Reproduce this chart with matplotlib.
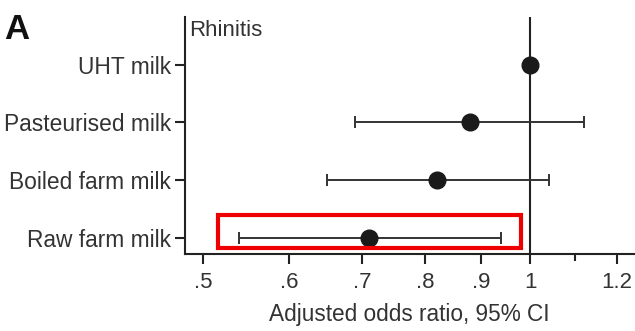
#!/usr/bin/env python3
import matplotlib
matplotlib.use('Agg')
import matplotlib.pyplot as plt
from matplotlib.patches import Rectangle
from matplotlib.ticker import FixedLocator, NullFormatter

# odds ratios with 95% CI, top row first
exposures = ['UHT milk', 'Pasteurised milk', 'Boiled farm milk', 'Raw farm milk']
odds_ratio = [1.00, 0.88, 0.82, 0.71]
ci_low = [1.00, 0.69, 0.65, 0.54]
ci_high = [1.00, 1.12, 1.04, 0.94]

xticks = [0.5, 0.6, 0.7, 0.8, 0.9, 1.0, 1.2]
xtick_labels = ['.5', '.6', '.7', '.8', '.9', '1', '1.2']
minor_ticks = [1.1]


def main():
    plt.rcParams['font.family'] = ['Liberation Sans', 'DejaVu Sans']
    fig = plt.figure(figsize=(6.35, 3.31), dpi=100)
    ax = fig.add_axes([0.291, 0.233, 0.708, 0.716])

    ypos = list(range(len(exposures)))[::-1]
    err_lo = [o - l for o, l in zip(odds_ratio, ci_low)]
    err_hi = [h - o for o, h in zip(odds_ratio, ci_high)]

    ax.axvline(1.0, color='#222222', lw=1.5, zorder=1)
    ax.errorbar(odds_ratio, ypos, xerr=[err_lo, err_hi], fmt='o',
                color='#1a1a1a', ecolor='#333333', elinewidth=1.4,
                capsize=4.5, capthick=1.4, markersize=12, zorder=3)

    ax.set_xscale('log')
    ax.set_xlim(0.481, 1.246)
    ax.set_ylim(-0.28, 3.83)

    ax.xaxis.set_major_locator(FixedLocator(xticks))
    ax.set_xticklabels(xtick_labels)
    ax.xaxis.set_minor_locator(FixedLocator(minor_ticks))
    ax.xaxis.set_minor_formatter(NullFormatter())
    ax.set_yticks(ypos)
    ax.set_yticklabels(exposures)

    for s in ['top', 'right']:
        ax.spines[s].set_visible(False)
    for s in ['left', 'bottom']:
        ax.spines[s].set_linewidth(1.5)
        ax.spines[s].set_color('#222222')
    ax.tick_params(axis='both', which='major', length=7, width=1.5,
                   color='#222222', labelcolor='#333333')
    ax.tick_params(axis='y', labelsize=16.4, pad=3)
    ax.tick_params(axis='x', labelsize=16, pad=6)
    ax.tick_params(axis='x', which='minor', length=5, width=1.5, color='#222222')

    ax.set_xlabel('Adjusted odds ratio, 95% CI', fontsize=16.3,
                  color='#333333', labelpad=7)
    ax.text(0.01, 0.985, 'Rhinitis', transform=ax.transAxes, fontsize=16,
            color='#333333', va='top', ha='left')
    fig.text(0.006, 0.96, 'A', fontsize=25, fontweight='bold',
             color='#111111', va='top', ha='left')

    # red highlight around the raw farm milk row
    raw_y = ypos[-1]
    box = Rectangle((0.516, raw_y - 0.18), 0.981 - 0.516, 0.58,
                    fill=False, edgecolor='#ee0000', lw=3, zorder=4,
                    clip_on=False)
    ax.add_patch(box)

    fig.savefig('out.png', dpi=100)


if __name__ == '__main__':
    main()
